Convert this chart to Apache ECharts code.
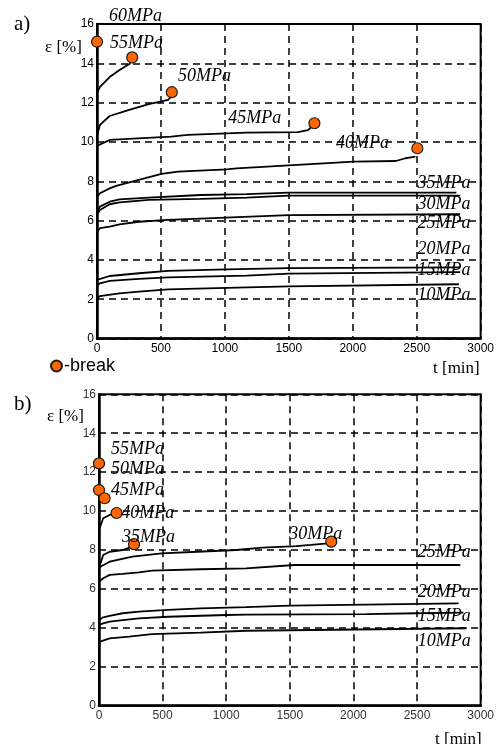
<!DOCTYPE html>
<html><head><meta charset="utf-8">
<script src="https://cdn.jsdelivr.net/npm/echarts@6/dist/echarts.min.js"></script>
<style>html,body{margin:0;padding:0;background:#fff}#c{width:497px;height:744px}</style>
</head><body><div id="c"></div><script>
// ---- Panel a) creep curves [t (min), strain (%)] ----
const a55 = [[0,11.4],[0,12.5],[23,12.8],[99,13.3],[176,13.66],[262,14.0]];
const a50 = [[0,10.0],[0,10.3],[23,10.87],[99,11.32],[252,11.63],[405,11.92],[557,12.14],[580,12.3]];
const a45 = [[0,9.8],[99,10.1],[580,10.27],[710,10.36],[1168,10.47],[1570,10.5],[1650,10.6],[1690,10.85]];
const a40 = [[0,6.96],[0,7.2],[23,7.39],[99,7.64],[150,7.76],[275,7.98],[504,8.37],[634,8.49],[1015,8.6],[1092,8.66],[2008,9.0],[2336,9.03],[2412,9.17],[2490,9.25]];
const a35 = [[0,6.4],[23,6.71],[99,6.96],[176,7.08],[405,7.17],[810,7.3],[1170,7.35],[1500,7.42],[2810,7.42]];
const a30 = [[0,6.3],[23,6.54],[99,6.83],[176,6.93],[405,7.05],[810,7.1],[1170,7.17],[1500,7.27],[2840,7.27]];
const a25 = [[0,5.44],[23,5.61],[99,5.69],[176,5.81],[328,5.94],[557,6.03],[810,6.1],[1100,6.18],[1500,6.28],[2840,6.32]];
const a20 = [[0,2.98],[99,3.18],[328,3.32],[557,3.44],[1015,3.52],[1500,3.58],[2840,3.62]];
const a15 = [[0,2.3],[0,2.7],[23,2.81],[99,2.93],[328,3.03],[557,3.11],[1170,3.2],[1500,3.3],[2840,3.38]];
const a10 = [[0,2.05],[23,2.16],[176,2.3],[328,2.38],[557,2.5],[1015,2.58],[1500,2.65],[2830,2.76]];
const aBreaks = [[0,15.1],[275,14.3],[585,12.53],[1700,10.95],[2505,9.68]];
const aLabels = [[301,16.37,'60MPa'],[309,15.03,'55MPa'],[840,13.32,'50MPa'],[1233,11.22,'45MPa'],[2076,9.93,'40MPa'],
  [2714,7.92,'35MPa'],[2714,6.83,'30MPa'],[2714,5.86,'25MPa'],[2714,4.55,'20MPa'],[2714,3.48,'15MPa'],[2714,2.18,'10MPa']];

// ---- Panel b) ----
const b40 = [[0,9.03],[33,9.63],[84,9.8],[122,9.87]];
const b35 = [[0,7.06],[33,7.74],[84,7.91],[186,8.0],[263,8.17]];
const b30 = [[0,7.1],[84,7.4],[263,7.66],[493,7.83],[773,7.91],[1080,8.0],[1283,8.12],[1550,8.2],[1666,8.26],[1800,8.34]];
const b25 = [[0,6.37],[33,6.55],[84,6.72],[186,6.77],[314,6.85],[416,6.94],[798,7.01],[1156,7.06],[1538,7.23],[2840,7.23]];
const b20 = [[0,4.4],[33,4.54],[84,4.61],[186,4.75],[314,4.83],[543,4.92],[798,5.0],[1156,5.06],[1500,5.14],[2826,5.26]];
const b15 = [[0,4.15],[33,4.23],[84,4.32],[186,4.4],[314,4.49],[543,4.57],[1002,4.66],[1156,4.68],[2100,4.71],[2500,4.75],[2864,4.78]];
const b10 = [[0,3.12],[8,3.29],[84,3.46],[237,3.55],[416,3.68],[798,3.75],[1156,3.85],[2890,3.98]];
const bBreaks = [[0,12.45],[0,11.08],[44,10.66],[138,9.9],[275,8.3],[1826,8.43]];
const bLabels = [[302,13.19,'55MPa'],[302,12.16,'50MPa'],[302,11.08,'45MPa'],[383,9.89,'40MPa'],[390,8.67,'35MPa'],
  [1704,8.81,'30MPa'],[2714,7.9,'25MPa'],[2714,5.83,'20MPa'],[2714,4.57,'15MPa'],[2714,3.29,'10MPa']];

const X_MIN = 0, X_MAX = 3000, X_INT = 500;
const Y_MIN = 0, Y_MAX = 16, Y_INT = 2;

const chart = echarts.init(document.getElementById('c'), null, {renderer:'canvas'});

function xAx(gi, color) {
  return {type:'value', gridIndex:gi, min:X_MIN, max:X_MAX, interval:X_INT,
    axisLine:{show:true, onZero:false, lineStyle:{color:'#000', width:2.5}},
    axisTick:{show:false},
    axisLabel:{color:color, fontSize:12, fontFamily:'Liberation Sans', margin:4, formatter:v=>String(v),
      alignMinLabel:'center', alignMaxLabel:'center', hideOverlap:false},
    splitLine:{show:true, lineStyle:{color:'#000', width:1.5, type:[7,5]}}};
}
function yAx(gi, color) {
  return {type:'value', gridIndex:gi, min:Y_MIN, max:Y_MAX, interval:Y_INT,
    axisLine:{show:true, onZero:false, lineStyle:{color:'#000', width:2.5}},
    axisTick:{show:false},
    axisLabel:{color:color, fontSize:12, fontFamily:'Liberation Sans', margin:3, formatter:v=>String(v)},
    splitLine:{show:true, lineStyle:{color:'#000', width:1.5, type:[7,5]}}};
}
function curve(data, gi) {
  return {type:'line', xAxisIndex:gi, yAxisIndex:gi, data:data, showSymbol:false, symbol:'none',
    lineStyle:{color:'#000', width:1.8}, silent:true, z:3};
}
function breaks(data, gi) {
  return {type:'scatter', name:'-break', xAxisIndex:gi, yAxisIndex:gi, data:data, symbol:'circle', symbolSize:11,
    itemStyle:{color:'#FF6600', borderColor:'#1a1a1a', borderWidth:1.2, opacity:1}, z:5, clip:false};
}

chart.setOption({
  animation:false,
  backgroundColor:'#fff',
  grid:[
    {left:97, top:24, width:393, height:314.5, show:true, borderColor:'#000', borderWidth:2, backgroundColor:'transparent'},
    {left:99, top:394.3, width:392, height:311.4, show:true, borderColor:'#000', borderWidth:2, backgroundColor:'transparent'}
  ],
  xAxis:[xAx(0,'#000'), xAx(1,'#333')],
  yAxis:[yAx(0,'#000'), yAx(1,'#333')],
  legend:{show:true, data:['-break'], left:50, top:357, padding:0, icon:'circle', itemWidth:11, itemHeight:11,
    textStyle:{fontSize:18, fontFamily:'Liberation Sans', color:'#000', padding:[0,0,0,-3]}},
  series:[
    curve(a55,0), curve(a50,0), curve(a45,0), curve(a40,0), curve(a35,0), curve(a30,0),
    curve(a25,0), curve(a20,0), curve(a15,0), curve(a10,0),
    breaks(aBreaks,0),
    curve(b40,1), curve(b35,1), curve(b30,1), curve(b25,1), curve(b20,1), curve(b15,1), curve(b10,1),
    breaks(bBreaks,1)
  ]
});

// Stress labels placed at data coordinates through the grid scales
function labelGraphics(list, gi) {
  return list.map(d => {
    const p = chart.convertToPixel({gridIndex:gi}, [d[0], d[1]]);
    return {type:'text', x:p[0], y:p[1], z:10, silent:true,
      style:{text:d[2], fill:'#000', font:'italic 18px "Liberation Serif"', textAlign:'center', textVerticalAlign:'middle'}};
  });
}
const txt = (t, x, y, size) => ({type:'text', left:x, top:y, style:{text:t, font:size+'px "Liberation Serif"', fill:'#000'}});
chart.setOption({
  graphic:[
    txt('a)', 14, 14, 21), txt('b)', 14, 394, 21),
    txt('ε [%]', 45, 39, 17), txt('ε [%]', 47, 408, 17),
    txt('t [min]', 433, 360, 17), txt('t [min]', 435, 731, 17)
  ].concat(labelGraphics(aLabels,0), labelGraphics(bLabels,1))
});
</script></body></html>
